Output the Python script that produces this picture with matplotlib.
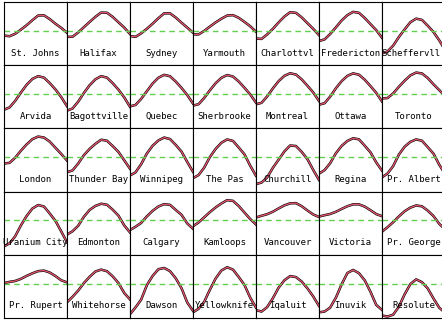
#!/usr/bin/python

"""
Mean temperature curves for 35 Canadian weather stations
"""

import matplotlib
matplotlib.use('Agg')
import matplotlib.pyplot as plt
import matplotlib.transforms as mtransforms
import numpy as np

stations = [
    'St. Johns', 'Halifax', 'Sydney', 'Yarmouth', 'Charlottvl', 'Fredericton', 'Scheffervll',
    'Arvida', 'Bagottville', 'Quebec', 'Sherbrooke', 'Montreal', 'Ottawa', 'Toronto',
    'London', 'Thunder Bay', 'Winnipeg', 'The Pas', 'Churchill', 'Regina', 'Pr. Albert',
    'Uranium City', 'Edmonton', 'Calgary', 'Kamloops', 'Vancouver', 'Victoria', 'Pr. George',
    'Pr. Rupert', 'Whitehorse', 'Dawson', 'Yellowknife', 'Iqaluit', 'Inuvik', 'Resolute',
]

# mid-month day of year
days = [15.5, 45, 74.5, 105, 135.5, 166, 196.5, 227.5, 258, 288.5, 319, 349.5]

# monthly mean temperature (deg C), one row per station
st_johns     = [-4.7, -5.4, -3.0, 1.2, 5.7, 10.7, 15.4, 15.6, 11.8, 7.1, 3.0, -1.9]
halifax      = [-6.0, -5.9, -1.6, 3.7, 9.0, 14.1, 18.4, 18.2, 14.0, 8.6, 3.3, -3.2]
sydney       = [-5.2, -6.0, -2.5, 2.1, 7.2, 12.7, 17.6, 17.6, 13.4, 8.2, 3.3, -1.8]
yarmouth     = [-3.5, -3.6, -0.1, 4.3, 8.5, 12.2, 15.4, 15.8, 13.1, 9.0, 4.6, -0.9]
charlottvl   = [-7.7, -8.1, -3.6, 2.0, 8.5, 14.4, 18.7, 18.1, 13.5, 7.7, 2.0, -4.3]
fredericton  = [-10.2, -8.6, -3.2, 3.5, 10.4, 15.8, 19.1, 18.1, 12.9, 6.8, 0.7, -6.9]
scheffervll  = [-22.7, -20.6, -14.9, -6.2, 1.5, 8.7, 12.3, 11.0, 5.2, -1.2, -9.5, -19.1]
arvida       = [-15.8, -13.4, -6.9, 1.5, 9.3, 15.2, 18.0, 16.5, 11.0, 4.6, -3.1, -12.2]
bagottville  = [-16.7, -14.5, -7.7, 1.1, 8.9, 14.8, 18.0, 16.5, 10.9, 4.4, -3.4, -12.8]
quebec       = [-12.4, -10.9, -4.9, 2.9, 10.6, 16.4, 19.3, 17.9, 12.6, 6.2, -1.0, -9.5]
sherbrooke   = [-11.6, -10.2, -4.0, 3.8, 10.9, 16.3, 19.1, 17.6, 12.6, 6.3, -0.4, -8.6]
montreal     = [-10.3, -8.8, -2.4, 5.7, 13.0, 18.3, 20.9, 19.6, 14.7, 8.3, 1.6, -6.9]
ottawa       = [-10.7, -9.2, -2.6, 5.8, 13.0, 18.3, 20.8, 19.4, 14.4, 8.0, 1.2, -7.4]
toronto      = [-4.4, -4.0, 0.6, 7.3, 13.4, 18.8, 21.6, 20.7, 16.1, 9.8, 4.0, -1.8]
london       = [-6.3, -5.6, -0.5, 6.6, 12.9, 18.2, 20.8, 19.8, 15.7, 9.5, 3.3, -3.2]
thunder_bay  = [-15.0, -13.2, -6.4, 2.1, 8.4, 13.5, 17.6, 16.6, 11.2, 5.3, -3.1, -11.5]
winnipeg     = [-18.3, -15.1, -7.0, 3.8, 11.6, 16.9, 19.8, 18.3, 12.4, 5.7, -4.7, -14.6]
the_pas      = [-21.0, -17.9, -10.5, 0.2, 8.4, 14.6, 17.9, 16.4, 9.8, 2.9, -8.5, -18.6]
churchill    = [-26.9, -25.4, -20.3, -10.6, -2.4, 5.9, 11.8, 11.3, 5.3, -2.0, -12.8, -22.8]
regina       = [-16.5, -12.9, -6.0, 4.0, 11.4, 16.4, 19.1, 18.0, 11.6, 4.9, -5.2, -13.4]
pr_albert    = [-20.2, -16.3, -8.9, 2.7, 10.6, 15.5, 17.9, 16.6, 10.2, 3.6, -7.5, -16.6]
uranium_city = [-26.0, -23.0, -16.0, -5.0, 4.5, 12.0, 15.5, 14.0, 7.0, -0.5, -11.0, -22.0]
edmonton     = [-14.2, -10.8, -5.4, 3.7, 10.6, 14.6, 16.8, 15.8, 10.8, 4.8, -5.0, -12.0]
calgary      = [-9.6, -6.3, -2.5, 4.1, 9.7, 14.0, 16.4, 15.7, 10.6, 5.7, -3.0, -8.3]
kamloops     = [-5.8, -2.0, 3.1, 8.4, 13.1, 17.1, 20.4, 19.7, 14.5, 7.9, 1.4, -4.0]
vancouver    = [3.0, 4.7, 6.3, 8.8, 12.1, 15.2, 17.2, 17.4, 14.3, 10.0, 6.0, 3.5]
victoria     = [3.9, 5.3, 6.5, 8.7, 11.6, 14.3, 16.2, 16.2, 13.9, 10.3, 6.4, 4.3]
pr_george    = [-11.3, -6.7, -1.8, 4.1, 9.3, 12.9, 15.1, 14.2, 9.9, 4.4, -3.4, -8.7]
pr_rupert    = [0.6, 1.8, 2.7, 4.8, 7.8, 10.4, 12.6, 13.1, 11.2, 7.6, 3.4, 1.3]
whitehorse   = [-18.7, -13.2, -7.0, 0.6, 6.9, 12.2, 14.1, 12.5, 7.3, 0.6, -9.4, -15.8]
dawson       = [-30.7, -23.8, -16.1, -1.5, 7.8, 14.5, 15.8, 12.6, 5.4, -4.5, -18.9, -27.3]
yellowknife  = [-28.8, -25.2, -18.4, -6.1, 5.2, 13.2, 16.5, 14.1, 6.7, -1.4, -14.1, -24.1]
iqaluit      = [-26.6, -28.0, -23.6, -14.6, -4.0, 3.4, 7.6, 6.6, 2.1, -4.8, -12.9, -22.4]
inuvik       = [-28.8, -28.0, -24.1, -14.1, -0.7, 10.7, 13.8, 10.5, 3.3, -8.2, -21.4, -26.4]
resolute     = [-32.0, -33.0, -31.2, -23.2, -10.7, -0.4, 4.3, 1.5, -4.8, -14.9, -24.2, -29.0]

temps = [
    st_johns, halifax, sydney, yarmouth, charlottvl, fredericton, scheffervll,
    arvida, bagottville, quebec, sherbrooke, montreal, ottawa, toronto,
    london, thunder_bay, winnipeg, the_pas, churchill, regina, pr_albert,
    uranium_city, edmonton, calgary, kamloops, vancouver, victoria, pr_george,
    pr_rupert, whitehorse, dawson, yellowknife, iqaluit, inuvik, resolute,
]

W, H = 442, 320
fig = plt.figure(figsize=(W / 100, H / 100), dpi=100)

ncol, nrow = 7, 5
x0, y0 = 4, 2          # pixel offset of the grid
cw, ch = 63, 63.2      # pixel size of a panel

labels = []
for i, (name, t) in enumerate(zip(stations, temps)):
    r, c = divmod(i, ncol)
    left = (x0 + c * cw) / W
    bottom = 1 - (y0 + (r + 1) * ch) / H
    ax = fig.add_axes([left, bottom, cw / W, ch / H])
    ax.plot(days, t, color='black', lw=1.8, solid_joinstyle='round')
    ax.plot(days, t, color='#DF536B', lw=1.0, solid_joinstyle='round')
    ax.axhline(0, color='#61D04F', lw=1.0, ls=(0, (4, 3)))
    ax.set_xlim(days[0], days[-1])
    ax.set_ylim(-34.5, 29)
    ax.set_xticks([])
    ax.set_yticks([])
    for s in ax.spines.values():
        s.set_linewidth(0.8)
    txt = ax.text(0.5, 0.19, name, transform=ax.transAxes, ha='center', va='center',
                  family='DejaVu Sans Mono', fontsize=6.5)
    labels.append(txt)

# pull back any label that runs past the right edge of the figure
renderer = fig.canvas.get_renderer()
for txt in labels:
    bb = txt.get_window_extent(renderer)
    over = bb.x1 - (W - 1)
    if over > 0:
        txt.set_transform(txt.get_transform() +
                          mtransforms.ScaledTranslation(-over / 100, 0, fig.dpi_scale_trans))

fig.savefig('out.png', dpi=100)
